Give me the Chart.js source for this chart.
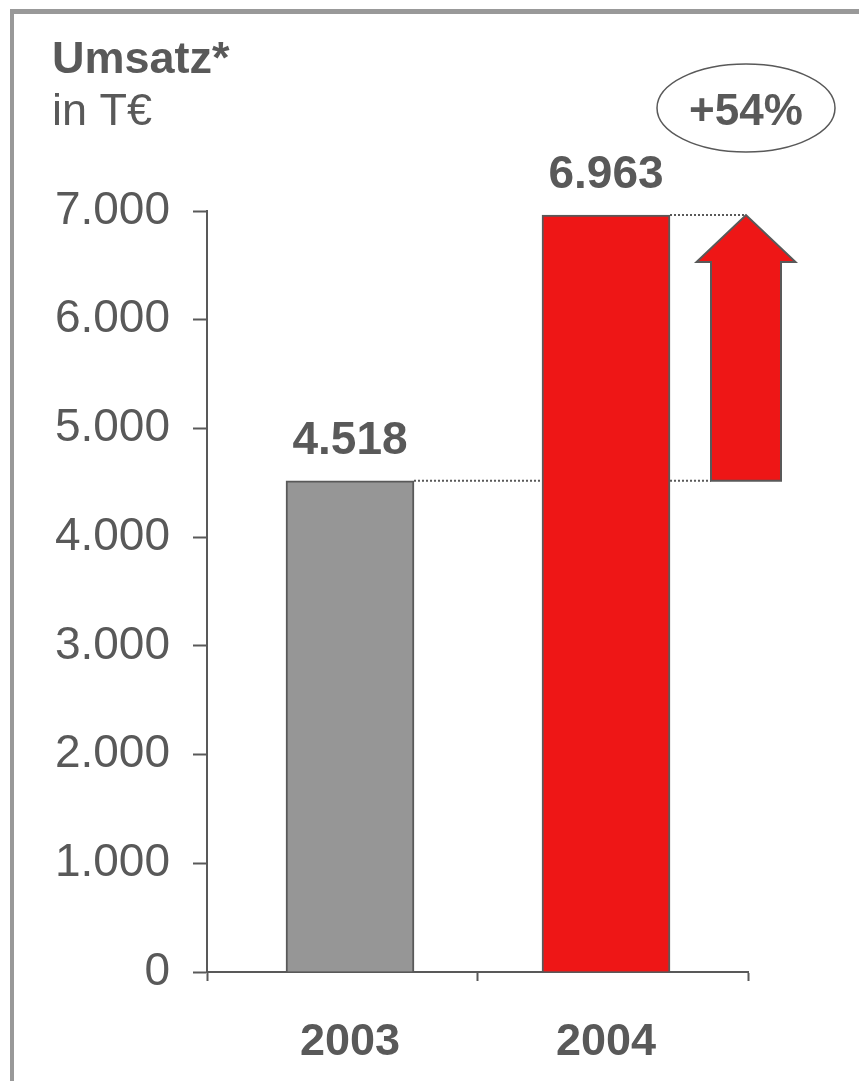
<!DOCTYPE html>
<html lang="de">
<head>
<meta charset="utf-8">
<title>Umsatz</title>
<script src="https://cdn.jsdelivr.net/npm/chart.js@4.4.1/dist/chart.umd.min.js"></script>
<style>
  html, body { margin: 0; padding: 0; background: #fff; }
  #wrap { position: relative; width: 859px; height: 1081px; overflow: hidden; }
  #rahmen {
    position: absolute; left: 10px; top: 9px; right: -10px; bottom: -10px;
    border-left: 4px solid #999; border-top: 5px solid #999;
    pointer-events: none;
  }
</style>
</head>
<body>
<div id="wrap">
  <canvas id="umsatzChart" width="859" height="1081"></canvas>
  <div id="rahmen"></div>
</div>
<script>
// Umsatz in T€ je Geschäftsjahr
const jahre = ["2003", "2004"];
const umsatz = [4518, 6963];
const balkenFarben = ["#969696", "#ee1616"];
const yTicks = [0, 1000, 2000, 3000, 4000, 5000, 6000, 7000];

const TEXT = "#595959";
const FONT = "'Liberation Sans', Arial, sans-serif";

// x-Achse linear, damit die Balken näher zusammenstehen als die Achsenteilung
const X_MIN = -0.5586;
const X_MAX = 1.5547;

function fmtDE(v) {
  return String(v).replace(/\B(?=(\d{3})+(?!\d))/g, ".");
}

document.addEventListener("DOMContentLoaded", () => {
  const canvas = document.getElementById("umsatzChart");

  // Überschrift, Wertelabels, gepunktete Linien, Pfeil und Ellipse
  const extras = {
    id: "extras",
    beforeDatasetsDraw(chart) {
      const ctx = chart.ctx;
      const xs = chart.scales.x;
      const ys = chart.scales.y;
      const bars = chart.getDatasetMeta(0).data;
      const tipX = xs.getPixelForValue(X_MAX) - 2;
      const y0 = ys.getPixelForValue(umsatz[0]);
      const y1 = ys.getPixelForValue(umsatz[1]);

      ctx.save();
      ctx.strokeStyle = TEXT;
      ctx.lineWidth = 2;
      ctx.setLineDash([2, 2]);
      ctx.beginPath();
      ctx.moveTo(bars[0].x + bars[0].width / 2, y0);
      ctx.lineTo(tipX - 35, y0);
      ctx.moveTo(bars[1].x + bars[1].width / 2, y1);
      ctx.lineTo(tipX, y1);
      ctx.stroke();
      ctx.restore();
    },
    afterDatasetsDraw(chart) {
      const ctx = chart.ctx;
      const xs = chart.scales.x;
      const ys = chart.scales.y;
      const bars = chart.getDatasetMeta(0).data;

      ctx.save();
      // Werte über den Balken
      ctx.fillStyle = TEXT;
      ctx.font = "bold 46px " + FONT;
      ctx.textAlign = "center";
      ctx.textBaseline = "alphabetic";
      bars.forEach((b, i) => {
        ctx.fillText(fmtDE(umsatz[i]), b.x, b.y - 27);
      });

      // Pfeil vom Vorjahreswert bis zum aktuellen Wert
      const tipX = xs.getPixelForValue(X_MAX) - 2;
      const yBase = ys.getPixelForValue(umsatz[0]);
      const yTip = ys.getPixelForValue(umsatz[1]);
      const shaft = 35, head = 49.5, headH = 47;
      ctx.beginPath();
      ctx.moveTo(tipX - shaft, yBase);
      ctx.lineTo(tipX - shaft, yTip + headH);
      ctx.lineTo(tipX - head, yTip + headH);
      ctx.lineTo(tipX, yTip);
      ctx.lineTo(tipX + head, yTip + headH);
      ctx.lineTo(tipX + shaft, yTip + headH);
      ctx.lineTo(tipX + shaft, yBase);
      ctx.closePath();
      ctx.fillStyle = balkenFarben[1];
      ctx.fill();
      ctx.strokeStyle = TEXT;
      ctx.lineWidth = 2;
      ctx.stroke();

      // Wachstum in Prozent in der Ellipse
      const pct = Math.round((umsatz[1] / umsatz[0] - 1) * 100);
      ctx.beginPath();
      ctx.ellipse(tipX, 108, 89, 44, 0, 0, Math.PI * 2);
      ctx.lineWidth = 1.5;
      ctx.stroke();
      ctx.fillStyle = TEXT;
      ctx.font = "bold 44px " + FONT;
      ctx.fillText("+" + pct + "%", tipX, 125);

      // Überschrift links oben
      ctx.textAlign = "left";
      ctx.font = "bold 45px " + FONT;
      ctx.fillText("Umsatz*", 52, 73);
      ctx.font = "45px " + FONT;
      ctx.fillText("in T€", 52, 125);
      ctx.restore();
    },
  };

  new Chart(canvas.getContext("2d"), {
    type: "bar",
    data: {
      datasets: [
        {
          data: umsatz.map((v, i) => ({ x: i, y: v })),
          backgroundColor: balkenFarben,
          borderColor: TEXT,
          borderWidth: 2,
          barThickness: 128,
        },
      ],
    },
    options: {
      responsive: false,
      animation: false,
      devicePixelRatio: 1,
      layout: { padding: { top: 211, right: 111, bottom: 0, left: 0 } },
      plugins: {
        legend: { display: false },
        tooltip: { enabled: false },
      },
      scales: {
        x: {
          type: "linear",
          min: X_MIN,
          max: X_MAX,
          offset: false,
          afterBuildTicks: (s) => {
            s.ticks = [X_MIN, 0, 0.5, 1, X_MAX].map((v) => ({ value: v }));
          },
          afterFit: (s) => {
            s.height = 109;
          },
          border: { display: true, color: TEXT, width: 2 },
          grid: {
            offset: false,
            drawOnChartArea: false,
            drawTicks: true,
            tickLength: 9,
            tickWidth: 2,
            tickColor: (c) =>
              c.tick && (c.tick.value === 0 || c.tick.value === 1)
                ? "rgba(0,0,0,0)"
                : TEXT,
          },
          ticks: {
            autoSkip: false,
            maxRotation: 0,
            padding: 35,
            color: TEXT,
            font: { family: FONT, size: 45, weight: "bold" },
            callback: (v) => jahre[v] || "",
          },
        },
        y: {
          min: 0,
          max: 7000,
          afterBuildTicks: (s) => {
            s.ticks = yTicks.map((v) => ({ value: v }));
          },
          afterFit: (s) => {
            s.width = 207;
          },
          border: { display: true, color: TEXT, width: 2 },
          grid: {
            drawOnChartArea: false,
            drawTicks: true,
            tickLength: 14,
            tickWidth: 2,
            tickColor: TEXT,
          },
          ticks: {
            padding: 23,
            color: TEXT,
            font: { family: FONT, size: 46 },
            callback: (v) => fmtDE(v),
          },
        },
      },
    },
    plugins: [extras],
  });
});
</script>
</body>
</html>
